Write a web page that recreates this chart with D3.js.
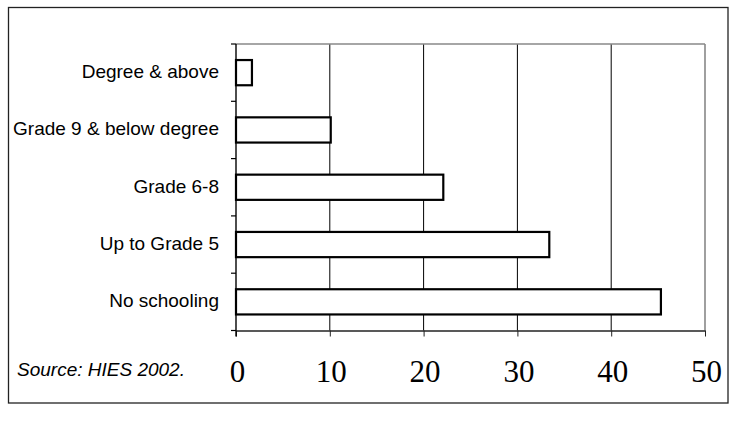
<!DOCTYPE html>
<html>
<head>
<meta charset="utf-8">
<script src="https://cdn.jsdelivr.net/npm/d3@7"></script>
<style>
  html, body { margin: 0; padding: 0; background: #fff; }
  svg { display: block; }
</style>
</head>
<body>
<svg id="chart" width="730" height="438"></svg>
<script>
const categories = ["Degree & above", "Grade 9 & below degree", "Grade 6-8", "Up to Grade 5", "No schooling"];
const values = [1.7, 10.1, 22.1, 33.4, 45.3];
const xTicks = [0, 10, 20, 30, 40, 50];
const sourceText = "Source: HIES 2002.";

(function () {
const svg = d3.select("#chart");

// outer frame
svg.append("rect")
  .attr("x", 8.5).attr("y", 7.5)
  .attr("width", 719.5).attr("height", 395.5)
  .attr("fill", "#fff").attr("stroke", "#222").attr("stroke-width", 1.3);

const pLeft = 236, pRight = 705, pTop = 44, pBottom = 330.5;

const x = d3.scaleLinear().domain([0, 50]).range([pLeft, pRight]);
const y = d3.scaleBand().domain(categories).range([pTop, pBottom]).paddingInner(0.56).paddingOuter(0.28);
const yStep = d3.scaleBand().domain(categories).range([pTop, pBottom]).padding(0);

// gridlines
svg.append("g").selectAll("line")
  .data(xTicks.filter(d => d > 0 && d < 50))
  .join("line")
  .attr("x1", d => x(d)).attr("x2", d => x(d))
  .attr("y1", pTop).attr("y2", pBottom)
  .attr("stroke", "#000").attr("stroke-width", 1);

// plot top and right borders (gray)
svg.append("line").attr("x1", pLeft).attr("x2", pRight).attr("y1", pTop).attr("y2", pTop)
  .attr("stroke", "#888").attr("stroke-width", 1.6);
svg.append("line").attr("x1", pRight).attr("x2", pRight).attr("y1", pTop).attr("y2", pBottom)
  .attr("stroke", "#888").attr("stroke-width", 1.6);

// bars
svg.append("g").selectAll("rect")
  .data(categories)
  .join("rect")
  .attr("x", x(0))
  .attr("y", d => y(d))
  .attr("width", (d, i) => x(values[i]) - x(0))
  .attr("height", y.bandwidth())
  .attr("fill", "#fff")
  .attr("stroke", "#000")
  .attr("stroke-width", 2.2);

// x axis
const xAxis = d3.axisBottom(x).tickValues(xTicks).tickSize(6).tickSizeOuter(0).tickFormat(d3.format("d"));
const gx = svg.append("g").attr("transform", `translate(0,${pBottom})`).call(xAxis);
gx.select(".domain").attr("stroke", "#222").attr("stroke-width", 1.4);
gx.selectAll(".tick line").attr("stroke", "#222");
gx.selectAll(".tick text")
  .attr("y", 0).attr("dy", 0)
  .attr("transform", "translate(1,51)")
  .attr("font-family", "'Liberation Serif', 'Times New Roman', serif")
  .attr("font-size", 31)
  .attr("fill", "#000");

// y axis (ticks at band boundaries)
svg.append("line").attr("x1", pLeft).attr("x2", pLeft).attr("y1", pTop).attr("y2", pBottom + 6)
  .attr("stroke", "#000").attr("stroke-width", 1.4);
const boundaries = categories.map(c => yStep(c)).concat([pBottom]);
svg.append("g").selectAll("line")
  .data(boundaries)
  .join("line")
  .attr("x1", pLeft - 5).attr("x2", pLeft)
  .attr("y1", d => d).attr("y2", d => d)
  .attr("stroke", "#000").attr("stroke-width", 1.2);

// category labels
svg.append("g").selectAll("text")
  .data(categories)
  .join("text")
  .attr("x", 219)
  .attr("y", d => yStep(d) + yStep.bandwidth() / 2 + 5.5)
  .attr("text-anchor", "end")
  .attr("font-family", "'Liberation Sans', Arial, sans-serif")
  .attr("font-size", 19)
  .attr("fill", "#000")
  .text(d => d);

// source note
svg.append("text")
  .attr("x", 17).attr("y", 375.5)
  .attr("font-family", "'Liberation Sans', Arial, sans-serif")
  .attr("font-size", 19)
  .attr("font-style", "italic")
  .attr("fill", "#000")
  .text(sourceText);
})();
</script>
</body>
</html>
